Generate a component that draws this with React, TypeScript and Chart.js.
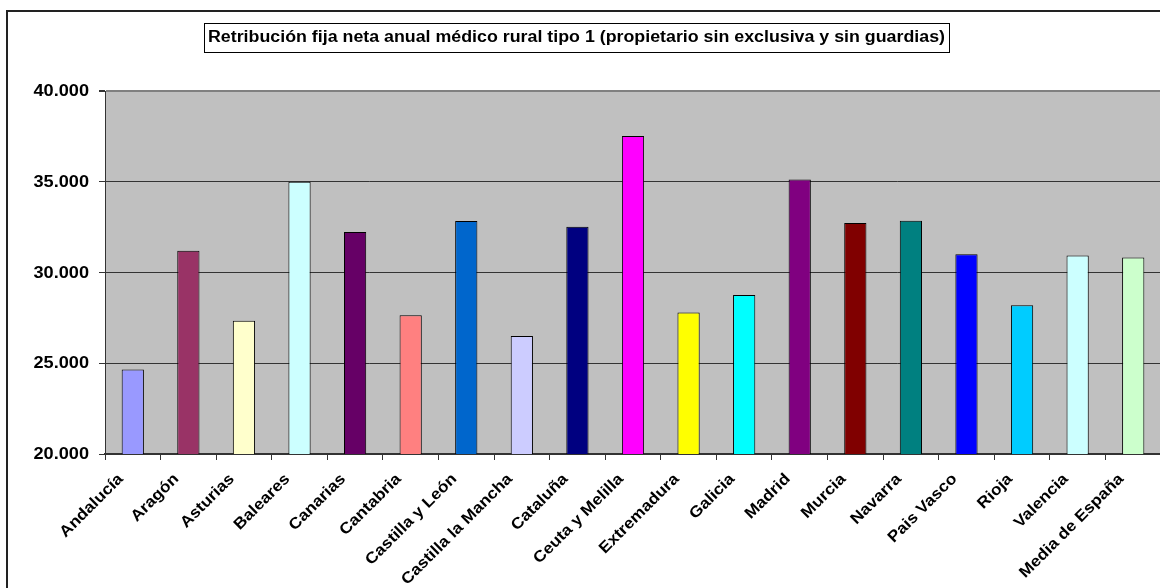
import React, { useEffect, useRef } from "react";
import { Chart, registerables } from "chart.js";

Chart.register(...registerables);

const TITLE = "Retribución fija neta anual médico rural tipo 1 (propietario sin exclusiva y sin guardias)";

const categories = [
  "Andalucía", "Aragón", "Asturias", "Baleares", "Canarias", "Cantabria",
  "Castilla y León", "Castilla la Mancha", "Cataluña", "Ceuta y Melilla",
  "Extremadura", "Galicia", "Madrid", "Murcia", "Navarra", "Pais Vasco",
  "Rioja", "Valencia", "Media de España",
];

const values = [
  24660, 31200, 27340, 35000, 32230, 27640,
  32840, 26500, 32520, 37520,
  27800, 28760, 35130, 32730, 32850, 31000,
  28190, 30930, 30820,
];

const barColors = [
  "#9999FF", "#993366", "#FFFFCC", "#CCFFFF", "#660066", "#FF8080",
  "#0066CC", "#CCCCFF", "#000080", "#FF00FF",
  "#FFFF00", "#00FFFF", "#800080", "#800000", "#008080", "#0000FF",
  "#00CCFF", "#CCFFFF", "#CCFFCC",
];

const yTickValues = [20000, 25000, 30000, 35000, 40000];

const FONT = "'Liberation Sans', Arial, sans-serif";
const STRETCH = 1.1;

const fmt = (v: number) => String(v).replace(/\B(?=(\d{3})+(?!\d))/g, ".");

const decorPlugin = {
  id: "decor",
  beforeDraw(chart: any) {
    const { ctx, chartArea } = chart;
    ctx.save();
    ctx.fillStyle = "#ffffff";
    ctx.fillRect(0, 0, chart.width, chart.height);
    ctx.fillStyle = "#C0C0C0";
    ctx.fillRect(chartArea.left, chartArea.top, chartArea.right - chartArea.left, chartArea.bottom - chartArea.top);
    ctx.restore();
  },
  afterDraw(chart: any) {
    const { ctx, chartArea } = chart;
    const xs = chart.scales.x;
    const ys = chart.scales.y;
    ctx.save();
    // outer frame
    ctx.strokeStyle = "#222";
    ctx.lineWidth = 2;
    ctx.strokeRect(7, 11, chart.width + 20, chart.height + 20);

    // title box
    ctx.font = `bold 16px ${FONT}`;
    const w = ctx.measureText(TITLE).width;
    const targetW = 737;
    const sx = targetW / w;
    const cx = 576.5;
    const cy = 37;
    const bw = targetW + 8;
    const bh = 29;
    ctx.fillStyle = "#fff";
    ctx.fillRect(cx - bw / 2, cy - bh / 2, bw, bh);
    ctx.strokeStyle = "#000";
    ctx.lineWidth = 1;
    ctx.strokeRect(Math.round(cx - bw / 2) + 0.5, Math.round(cy - bh / 2) + 0.5, Math.round(bw), bh);
    ctx.fillStyle = "#000";
    ctx.textAlign = "center";
    ctx.textBaseline = "middle";
    ctx.save();
    ctx.translate(cx, cy + 1);
    ctx.scale(sx, 1);
    ctx.fillText(TITLE, 0, 0);
    ctx.restore();

    // y tick labels
    ctx.font = `bold 16.5px ${FONT}`;
    ctx.textAlign = "right";
    ctx.textBaseline = "middle";
    for (const v of yTickValues) {
      const y = ys.getPixelForValue(v);
      ctx.save();
      ctx.translate(89, y + 0.5);
      ctx.scale(STRETCH, 1);
      ctx.fillText(fmt(v), 0, 0);
      ctx.restore();
    }

    // x tick labels (rotated 45°)
    ctx.font = `bold 15.7px ${FONT}`;
    ctx.textAlign = "right";
    ctx.textBaseline = "top";
    categories.forEach((label, i) => {
      const x = xs.getPixelForValue(i);
      ctx.save();
      ctx.translate(x - 17.5, chartArea.bottom + 17);
      ctx.rotate(-Math.PI / 4);
      ctx.scale(STRETCH, 1);
      ctx.fillText(label, 0, 0);
      ctx.restore();
    });
    ctx.restore();
  },
};

export default function App() {
  const ref = useRef<HTMLCanvasElement | null>(null);
  useEffect(() => {
    if (!ref.current) return;
    const chart = new Chart(ref.current, {
      type: "bar",
      data: {
        labels: categories,
        datasets: [
          {
            data: values,
            backgroundColor: barColors,
            borderColor: "#000",
            borderWidth: 1,
            barPercentage: 0.4,
            categoryPercentage: 1,
          },
        ],
      },
      options: {
        animation: false,
        responsive: false,
        devicePixelRatio: 1,
        layout: { padding: { top: 91, right: 19, left: 0, bottom: 0 } },
        plugins: { legend: { display: false }, title: { display: false }, tooltip: { enabled: false } },
        scales: {
          x: {
            offset: true,
            grid: {
              offset: true,
              drawOnChartArea: false,
              drawTicks: true,
              tickLength: 6,
              tickColor: "#333",
            },
            border: { color: "#333", width: 2 },
            ticks: {
              color: "rgba(0,0,0,0)",
              font: { family: FONT, size: 1 },
              maxRotation: 0,
              minRotation: 0,
              autoSkip: false,
              padding: 0,
              callback: () => "",
            },
            afterFit(scale: any) {
              scale.height = 620 - 454;
            },
          },
          y: {
            min: 20000,
            max: 40000,
            afterBuildTicks(scale: any) {
              scale.ticks = yTickValues.map((v) => ({ value: v }));
            },
            grid: {
              color: (c: any) => (c.tick && c.tick.value === 40000 ? "#808080" : "#333"),
              lineWidth: (c: any) => (c.tick && c.tick.value === 40000 ? 2 : 1),
              tickColor: "#333",
              tickLength: 6,
            },
            border: { color: "#333", width: 1 },
            ticks: {
              color: "rgba(0,0,0,0)",
              font: { family: FONT, size: 12, weight: "bold" },
              padding: 10,
              callback: (v: any) => fmt(Number(v)),
            },
            afterFit(scale: any) {
              scale.width = 105;
            },
          },
        },
      },
      plugins: [decorPlugin],
    });
    return () => chart.destroy();
  }, []);
  return (
    <div style={{ position: "fixed", left: 0, top: 0, width: 1160, height: 588, overflow: "hidden", background: "#fff" }}>
      <canvas ref={ref} width={1180} height={620} style={{ display: "block", width: 1180, height: 620 }} />
    </div>
  );
}
